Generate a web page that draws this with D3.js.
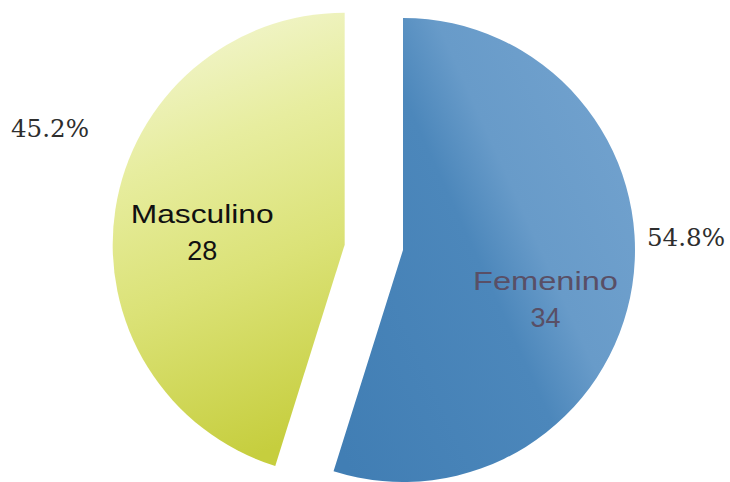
<!DOCTYPE html>
<html>
<head>
<meta charset="utf-8">
<script src="https://cdn.jsdelivr.net/npm/d3@7"></script>
<style>
  html, body { margin: 0; padding: 0; background: #ffffff; }
  svg { display: block; }
</style>
</head>
<body>
<svg id="chart" width="730" height="482"></svg>
<script>
const categories = ["Femenino", "Masculino"];
const values = [34, 28];
const percentLabels = ["54.8%", "45.2%"];

const W = 730, H = 482;
const svg = d3.select("#chart");
const defs = svg.append("defs");

const gY = defs.append("linearGradient").attr("id", "gradY")
  .attr("x1", "0.3").attr("y1", "0").attr("x2", "0.5").attr("y2", "1");
gY.append("stop").attr("offset", "0").attr("stop-color", "#f3f6d2");
gY.append("stop").attr("offset", "0.3").attr("stop-color", "#e7ed9f");
gY.append("stop").attr("offset", "0.6").attr("stop-color", "#dbe277");
gY.append("stop").attr("offset", "1").attr("stop-color", "#c6ce3e");

const gB = defs.append("linearGradient").attr("id", "gradB")
  .attr("x1", "1").attr("y1", "0.2").attr("x2", "0").attr("y2", "0.9");
gB.append("stop").attr("offset", "0").attr("stop-color", "#72a2ce");
gB.append("stop").attr("offset", "0.35").attr("stop-color", "#689bc9");
gB.append("stop").attr("offset", "0.5").attr("stop-color", "#4c87bb");
gB.append("stop").attr("offset", "1").attr("stop-color", "#417eb4");

const fills = ["url(#gradB)", "url(#gradY)"];
const labelColors = ["#594f66", "#111111"];
const explode = [0, 59];

const cx = 403, cy = 250, R = 232;

const pie = d3.pie().sort(null).startAngle(0).endAngle(2 * Math.PI);
const arcs = pie(values);
const arc = d3.arc().innerRadius(0).outerRadius(R);
const labelArc = d3.arc().innerRadius(R * 0.63).outerRadius(R * 0.63);

const g = svg.append("g").attr("transform", `translate(${cx},${cy})`);

const slices = g.selectAll("g.slice").data(arcs).enter().append("g")
  .attr("class", "slice")
  .attr("transform", (d, i) => {
    const a = (d.startAngle + d.endAngle) / 2;
    const dx = Math.sin(a) * explode[i], dy = -Math.cos(a) * explode[i] * 0.6;
    return `translate(${dx},${dy})`;
  });

slices.append("path").attr("d", arc).attr("fill", (d, i) => fills[i]);

const labelOffsets = [[-2, 27], [2, 9]];
const nameWidths = [145, 143];
slices.each(function(d, i) {
  const [lx, ly] = labelArc.centroid(d);
  const x = lx + labelOffsets[i][0], y = ly + labelOffsets[i][1];
  const t = d3.select(this).append("text")
    .attr("text-anchor", "middle")
    .attr("font-family", "Liberation Sans, Arial, sans-serif")
    .attr("font-size", 26)
    .attr("fill", labelColors[i]);
  t.append("tspan").attr("x", x).attr("y", y - 9)
    .attr("textLength", nameWidths[i]).attr("lengthAdjust", "spacingAndGlyphs")
    .text(categories[i]);
  t.append("tspan").attr("x", x).attr("y", y + 28).attr("font-size", 27).text(values[i]);
});

const pctPos = [[647, 246], [11, 137]];
percentLabels.forEach((p, i) => {
  svg.append("text")
    .attr("x", pctPos[i][0]).attr("y", pctPos[i][1])
    .attr("font-family", "DejaVu Serif, serif")
    .attr("font-size", 25)
    .attr("textLength", 78).attr("lengthAdjust", "spacingAndGlyphs")
    .attr("fill", "#2e2e2e")
    .text(p);
});
</script>
</body>
</html>
